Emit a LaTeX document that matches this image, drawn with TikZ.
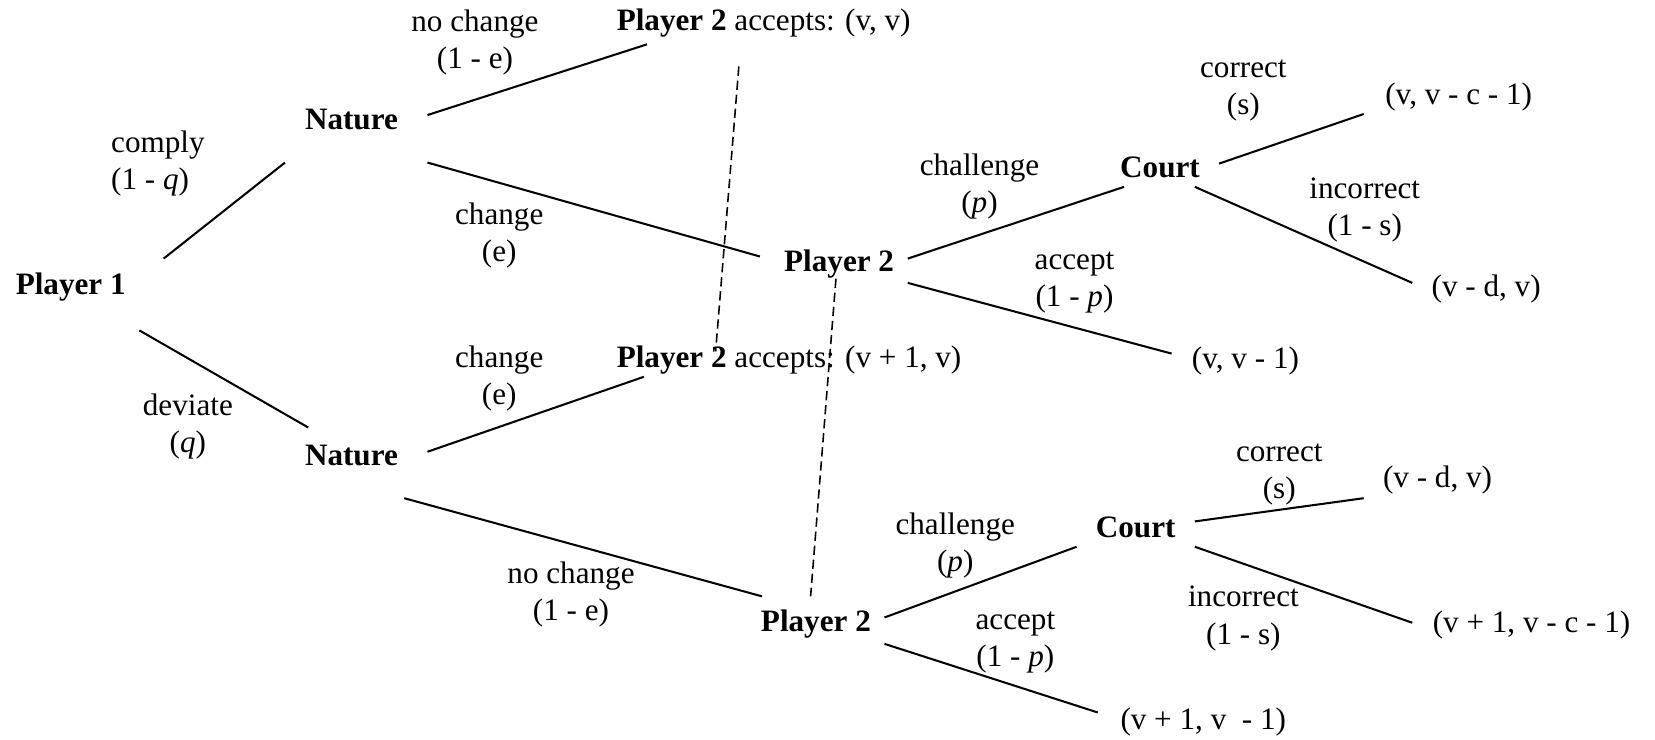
\documentclass[tikz,border=0pt]{standalone}
\usepackage{fontspec}
\setmainfont{Liberation Serif}
\usetikzlibrary{calc}
\newcommand{\treefont}{\fontsize{16.8}{20}\selectfont}

\tikzset{
  player/.style={font=\treefont\bfseries, inner sep=0pt},
  move/.style={font=\treefont, align=center, inner sep=0pt},
  payoff/.style={font=\treefont, inner sep=0pt},
  branch/.style={line width=1.1pt},
  infoset/.style={line width=0.85pt, dash pattern=on 5pt off 2.6pt}
}

\begin{document}
\begin{tikzpicture}[x=0.02cm,y=-0.02cm]
    \useasboundingbox (0,0) rectangle (1568,701);

    % Decision nodes
    \node[player] (p1) at (67,272) {Player 1};
    \node[player] (nat1) at (333,113) {Nature};
    \node[player] (nat2) at (333,432) {Nature};
    \node[player] (p2a) at (795,250) {Player 2};
    \node[player] (p2b) at (773,591) {Player 2};
    \node[player] (courta) at (1099,159) {Court};
    \node[player] (courtb) at (1076,500) {Court};

    % Outcomes
    \node[payoff,anchor=west] (acc1) at (584,22) {\textbf{Player 2} accepts: (v, v)};
    \node[payoff,anchor=west] (acc2) at (584,341) {\textbf{Player 2} accepts: (v + 1, v)};
    \node[payoff] (pa1) at (1382,92) {(v, v - c - 1)};
    \node[payoff] (pa2) at (1408,274) {(v - d, v)};
    \node[payoff] (pa3) at (1180,342) {(v, v - 1)};
    \node[payoff] (pb1) at (1362,455) {(v - d, v)};
    \node[payoff] (pb2) at (1451,592) {(v + 1, v - c - 1)};
    \node[payoff] (pb3) at (1140,684) {(v + 1, v~ - 1)};

    % Move labels
    \node[move,align=left,anchor=west] (comply) at (105,155) {comply\\(1 - \textit{q})};
    \node[move] (deviate) at (178,404) {deviate\\(\textit{q})};
    \node[move] (nochga) at (450,40) {no change\\(1 - e)};
    \node[move] (chga) at (473,223) {change\\(e)};
    \node[move] (chgb) at (473,359) {change\\(e)};
    \node[move] (nochgb) at (541,563) {no change\\(1 - e)};
    \node[move] (challa) at (928,177) {challenge\\(\textit{p})};
    \node[move] (accepta) at (1018,268) {accept\\(1 - \textit{p})};
    \node[move] (challb) at (905,517) {challenge\\(\textit{p})};
    \node[move] (acceptb) at (962,609) {accept\\(1 - \textit{p})};
    \node[move] (correcta) at (1178,86) {correct\\(s)};
    \node[move] (incorra) at (1293,199) {incorrect\\(1 - s)};
    \node[move] (correctb) at (1212,450) {correct\\(s)};
    \node[move] (incorrb) at (1178,586) {incorrect\\(1 - s)};

    % Branches
    \draw[branch] ($(p1)+(88,-27)$) -- ($(nat1)+(-63,41)$);
    \draw[branch] ($(p1)+(65,41)$) -- ($(nat2)+(-41,-27)$);
    \draw[branch] ($(nat1)+(72,-4)$) -- ($(acc1.west)+(29,20)$);
    \draw[branch] ($(nat1)+(72,41)$) -- ($(p2a)+(-75,-7)$);
    \draw[branch] ($(nat2)+(72,-4)$) -- ($(acc2.west)+(26,16)$);
    \draw[branch] ($(nat2)+(50,40)$) -- ($(p2b)+(-51,-26)$);
    \draw[branch] ($(p2a)+(65,-5)$) -- ($(courta)+(-34,18)$);
    \draw[branch] ($(p2a)+(65,18)$) -- ($(pa3)+(-70,-7)$);
    \draw[branch] ($(courta)+(56,-4)$) -- ($(pa1)+(-90,16)$);
    \draw[branch] ($(courta)+(33,18)$) -- ($(pa2)+(-70,-6)$);
    \draw[branch] ($(p2b)+(65,-6)$) -- ($(courtb)+(-56,18)$);
    \draw[branch] ($(p2b)+(65,19)$) -- ($(pb3)+(-100,-9)$);
    \draw[branch] ($(courtb)+(56,-6)$) -- ($(pb1)+(-70,17)$);
    \draw[branch] ($(courtb)+(56,18)$) -- ($(pb2)+(-113,-2)$);

    % Information sets
    \draw[infoset] ($(acc1.west)+(116,41)$) -- ($(acc2.west)+(94,-8)$);
    \draw[infoset] ($(p2a)+(-3,14)$) -- ($(p2b)+(-5,-26)$);
\end{tikzpicture}
\end{document}
